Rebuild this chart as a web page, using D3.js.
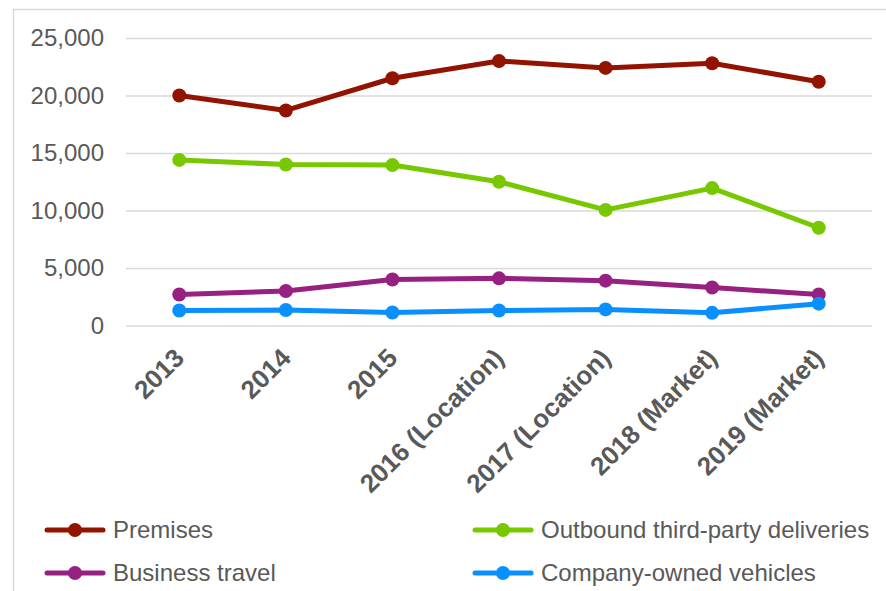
<!DOCTYPE html>
<html>
<head>
<meta charset="utf-8">
<script src="https://cdn.jsdelivr.net/npm/d3@7"></script>
<style>
  body { margin: 0; background: #fff; }
  #chart-area text { font-family: Arial, "Liberation Sans", sans-serif; }
</style>
</head>
<body>
<div id="chart-area"></div>
<script>
// Chart data
const categories = ["2013", "2014", "2015", "2016 (Location)", "2017 (Location)", "2018 (Market)", "2019 (Market)"];
const premises = [20000, 18700, 21500, 23000, 22400, 22800, 21200];
const outbound = [14400, 14000, 13950, 12500, 10050, 11950, 8500];
const businessTravel = [2700, 3000, 4000, 4100, 3900, 3300, 2700];
const vehicles = [1300, 1350, 1130, 1300, 1400, 1100, 1900];
const seriesNames = ["Premises", "Outbound third-party deliveries", "Business travel", "Company-owned vehicles"];
const seriesColors = ["#921300", "#77c800", "#962181", "#0a8fff"];
const yTicks = [0, 5000, 10000, 15000, 20000, 25000];

class LineChartVis {
  constructor(_parentElement) {
    this.parentElement = _parentElement;
    this.series = [premises, outbound, businessTravel, vehicles].map((values, i) => ({
      name: seriesNames[i],
      color: seriesColors[i],
      values: values.map((v, j) => ({ cat: categories[j], value: v }))
    }));
    this.initVis();
  }

  initVis() {
    let vis = this;

    vis.totalWidth = 886;
    vis.totalHeight = 591;
    vis.margin = { top: 38, right: 14, bottom: 265.5, left: 126 };
    vis.width = vis.totalWidth - vis.margin.left - vis.margin.right;
    vis.height = vis.totalHeight - vis.margin.top - vis.margin.bottom;

    vis.root = d3
      .select("#" + vis.parentElement)
      .append("svg")
      .attr("width", vis.totalWidth)
      .attr("height", vis.totalHeight);

    // Chart border (runs off the right and bottom edges)
    vis.root
      .append("rect")
      .attr("x", 13.5)
      .attr("y", 9.5)
      .attr("width", vis.totalWidth)
      .attr("height", vis.totalHeight)
      .attr("fill", "none")
      .attr("stroke", "#d9d9d9")
      .attr("stroke-width", 1.5);

    vis.svg = vis.root
      .append("g")
      .attr("transform", "translate(" + vis.margin.left + "," + vis.margin.top + ")");

    // Scales
    vis.x = d3.scalePoint().domain(categories).range([0, vis.width]).padding(0.5);
    vis.y = d3.scaleLinear().domain([0, 25000]).range([vis.height, 0]);

    // Y axis with gridlines
    vis.yAxis = d3
      .axisLeft(vis.y)
      .tickValues(yTicks)
      .tickFormat(d3.format(","))
      .tickSizeInner(-vis.width)
      .tickSizeOuter(0)
      .tickPadding(22);

    let yG = vis.svg.append("g").attr("class", "y-axis").call(vis.yAxis);
    yG.select(".domain").remove();
    yG.selectAll("line").attr("stroke", "#d9d9d9").attr("stroke-width", 1.5);
    yG.selectAll("text")
      .attr("fill", "#595959")
      .style("font-size", "24px");

    // X axis, rotated labels
    vis.xAxis = d3.axisBottom(vis.x).tickSize(0);
    let xG = vis.svg
      .append("g")
      .attr("class", "x-axis")
      .attr("transform", "translate(0," + vis.height + ")")
      .call(vis.xAxis);
    xG.select(".domain").remove();
    xG.selectAll("text")
      .attr("x", 0)
      .attr("y", 0)
      .attr("dy", null)
      .attr("text-anchor", "end")
      .attr("transform", "translate(6,34) rotate(-45)")
      .attr("fill", "#595959")
      .style("font-size", "26px")
      .style("font-weight", "bold");

    vis.updateVis();
    vis.drawLegend();
  }

  updateVis() {
    let vis = this;

    let line = d3
      .line()
      .x((d) => vis.x(d.cat))
      .y((d) => vis.y(d.value));

    let groups = vis.svg
      .selectAll(".series")
      .data(vis.series)
      .enter()
      .append("g")
      .attr("class", "series");

    groups
      .append("path")
      .attr("d", (d) => line(d.values))
      .attr("fill", "none")
      .attr("stroke", (d) => d.color)
      .attr("stroke-width", 5)
      .attr("stroke-linejoin", "round");

    groups
      .selectAll("circle")
      .data((d) => d.values.map((v) => ({ ...v, color: d.color })))
      .enter()
      .append("circle")
      .attr("cx", (d) => vis.x(d.cat))
      .attr("cy", (d) => vis.y(d.value))
      .attr("r", 7)
      .attr("fill", (d) => d.color);
  }

  drawLegend() {
    let vis = this;

    // two columns, two rows
    let colX = [47, 475];
    let rowY = [530, 573];

    let items = vis.root
      .selectAll(".legend-item")
      .data(vis.series)
      .enter()
      .append("g")
      .attr("class", "legend-item")
      .attr("transform", (d, i) => "translate(" + colX[i % 2] + "," + rowY[Math.floor(i / 2)] + ")");

    items
      .append("line")
      .attr("x1", 0)
      .attr("x2", 56)
      .attr("stroke", (d) => d.color)
      .attr("stroke-width", 5)
      .attr("stroke-linecap", "round");

    items
      .append("circle")
      .attr("cx", 28)
      .attr("r", 7)
      .attr("fill", (d) => d.color);

    items
      .append("text")
      .attr("x", 66)
      .attr("dy", "0.35em")
      .attr("fill", "#595959")
      .style("font-size", "24px")
      .text((d) => d.name);
  }
}

new LineChartVis("chart-area");
</script>
</body>
</html>
